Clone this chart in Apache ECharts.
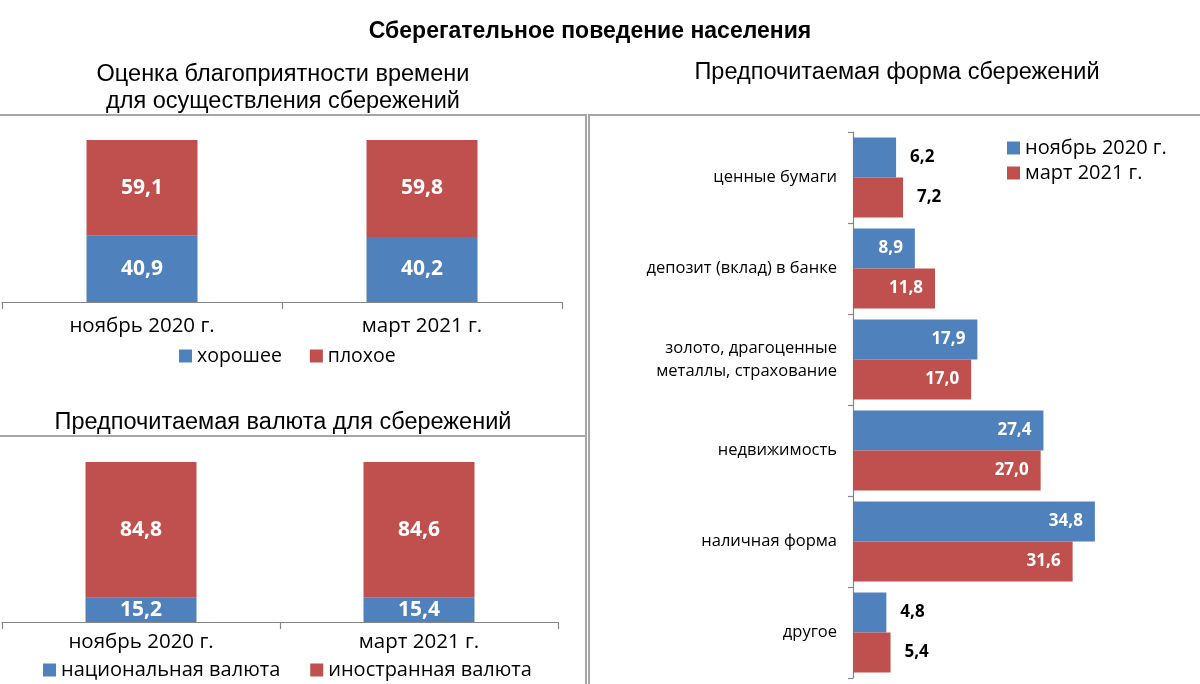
<!DOCTYPE html>
<html>
<head>
<meta charset="utf-8">
<script src="https://cdn.jsdelivr.net/npm/echarts@6/dist/echarts.min.js"></script>
<style>
html,body{margin:0;padding:0;background:#fff;}
#chart{width:1200px;height:684px;}
</style>
</head>
<body>
<div id="chart"></div>
<script>
// ---- Data ----
const mainTitle = 'Сберегательное поведение населения';
const titleTopLeft = ['Оценка благоприятности времени', 'для осуществления сбережений'];
const titleBottomLeft = 'Предпочитаемая валюта для сбережений';
const titleRight = 'Предпочитаемая форма сбережений';

const periodCategories = ['ноябрь 2020 г.', 'март 2021 г.'];
const goodValues = [40.9, 40.2];
const badValues = [59.1, 59.8];
const nationalValues = [15.2, 15.4];
const foreignValues = [84.8, 84.6];

const formCategories = ['ценные бумаги', 'депозит (вклад) в банке', 'золото, драгоценные\nметаллы, страхование', 'недвижимость', 'наличная форма', 'другое'];
const nov2020Values = [6.2, 8.9, 17.9, 27.4, 34.8, 4.8];
const mar2021Values = [7.2, 11.8, 17.0, 27.0, 31.6, 5.4];

// ---- Styles ----
const BLUE = '#4F81BD';
const RED = '#C0504D';
const CAL = '"Open Sans", "Noto Sans", sans-serif';
const ARIAL = '"Liberation Sans", Arial, sans-serif';
const fmt = v => Number(v).toFixed(1).replace('.', ',');

function stackLabel() {
  return {show: true, position: 'inside', color: '#fff', fontWeight: 'bold', fontSize: 21, fontFamily: CAL,
          formatter: p => fmt(p.value)};
}
function formData(values) {
  return values.map(v => {
    const outside = v < 8;
    return {
      value: v,
      label: outside
        ? {position: 'right', distance: 14, color: '#000'}
        : {position: 'insideRight', distance: 12, color: '#fff'}
    };
  });
}
const catAxisCommon = {
  type: 'category',
  axisLine: {lineStyle: {color: '#868686', width: 1.2}},
  axisTick: {show: true, length: 7, lineStyle: {color: '#868686', width: 1.2}},
};

const chart = echarts.init(document.getElementById('chart'), null, {renderer: 'canvas'});
const borderStyle = {stroke: '#a6a6a6', lineWidth: 2};
const titleFont = '23.5px ' + ARIAL;

chart.setOption({
  backgroundColor: '#fff',
  animation: false,
  graphic: [
    {type: 'text', x: 590, y: 32, style: {text: mainTitle, font: 'bold 23px ' + ARIAL, fill: '#000', textAlign: 'center', textVerticalAlign: 'middle'}},
    {type: 'text', x: 283, y: 75, style: {text: titleTopLeft[0], font: titleFont, fill: '#000', textAlign: 'center', textVerticalAlign: 'middle'}},
    {type: 'text', x: 283, y: 102, style: {text: titleTopLeft[1], font: titleFont, fill: '#000', textAlign: 'center', textVerticalAlign: 'middle'}},
    {type: 'text', x: 283, y: 423, style: {text: titleBottomLeft, font: titleFont, fill: '#000', textAlign: 'center', textVerticalAlign: 'middle'}},
    {type: 'text', x: 897, y: 73, style: {text: titleRight, font: titleFont, fill: '#000', textAlign: 'center', textVerticalAlign: 'middle'}},
    {type: 'polyline', shape: {points: [[0, 115], [586, 115], [586, 684]]}, style: borderStyle},
    {type: 'line', shape: {x1: 0, y1: 436, x2: 586, y2: 436}, style: borderStyle},
    {type: 'polyline', shape: {points: [[1200, 115], [589, 115], [589, 684]]}, style: borderStyle}
  ],
  legend: [
    {data: ['хорошее', 'плохое'], left: 174, top: 341, itemWidth: 13, itemHeight: 13, itemGap: 28,
     icon: 'rect', textStyle: {fontSize: 19.5, fontFamily: CAL, color: '#000'}},
    {data: ['национальная валюта', 'иностранная валюта'], left: 38, top: 655, itemWidth: 13, itemHeight: 13, itemGap: 30,
     icon: 'rect', textStyle: {fontSize: 20, fontFamily: CAL, color: '#000'}},
    {data: ['ноябрь 2020 г.', 'март 2021 г.'], orient: 'vertical', left: 1002, top: 133, itemWidth: 13, itemHeight: 13, itemGap: 5,
     icon: 'rect', textStyle: {fontSize: 20, fontFamily: CAL, color: '#000'}}
  ],
  grid: [
    {left: 2, top: 140, width: 560, height: 162},
    {left: 2, top: 462, width: 556, height: 160},
    {left: 853, top: 132, width: 278, height: 546}
  ],
  xAxis: [
    Object.assign({}, catAxisCommon, {gridIndex: 0, data: periodCategories,
      axisLabel: {fontSize: 20.5, fontFamily: CAL, color: '#000', margin: 14}}),
    Object.assign({}, catAxisCommon, {gridIndex: 1, data: periodCategories,
      axisLabel: {fontSize: 20.5, fontFamily: CAL, color: '#000', margin: 10}}),
    {type: 'value', gridIndex: 2, min: 0, max: 40, show: false, splitLine: {show: false}}
  ],
  yAxis: [
    {type: 'value', gridIndex: 0, min: 0, max: 100, show: false},
    {type: 'value', gridIndex: 1, min: 0, max: 100, show: false},
    Object.assign({}, catAxisCommon, {gridIndex: 2, data: formCategories, inverse: true,
      axisTick: {show: true, length: 5, lineStyle: {color: '#868686', width: 1.2}},
      axisLabel: {fontSize: 16.5, fontFamily: CAL, color: '#000', margin: 16, align: 'right', lineHeight: 23}})
  ],
  series: [
    {name: 'хорошее', type: 'bar', xAxisIndex: 0, yAxisIndex: 0, stack: 'a', barWidth: 111, data: goodValues,
     itemStyle: {color: BLUE}, label: stackLabel()},
    {name: 'плохое', type: 'bar', xAxisIndex: 0, yAxisIndex: 0, stack: 'a', barWidth: 111, data: badValues,
     itemStyle: {color: RED}, label: stackLabel()},
    {name: 'национальная валюта', type: 'bar', xAxisIndex: 1, yAxisIndex: 1, stack: 'b', barWidth: 111, data: nationalValues,
     itemStyle: {color: BLUE}, label: stackLabel()},
    {name: 'иностранная валюта', type: 'bar', xAxisIndex: 1, yAxisIndex: 1, stack: 'b', barWidth: 111, data: foreignValues,
     itemStyle: {color: RED}, label: stackLabel()},
    {name: 'ноябрь 2020 г.', type: 'bar', xAxisIndex: 2, yAxisIndex: 2, barGap: '0%', barCategoryGap: '12%',
     data: formData(nov2020Values), itemStyle: {color: BLUE},
     label: {show: true, fontWeight: 'bold', fontSize: 17, fontFamily: CAL, formatter: p => fmt(p.value)}},
    {name: 'март 2021 г.', type: 'bar', xAxisIndex: 2, yAxisIndex: 2, barGap: '0%', barCategoryGap: '12%',
     data: formData(mar2021Values), itemStyle: {color: RED},
     label: {show: true, fontWeight: 'bold', fontSize: 17, fontFamily: CAL, formatter: p => fmt(p.value)}}
  ]
});
</script>
</body>
</html>
